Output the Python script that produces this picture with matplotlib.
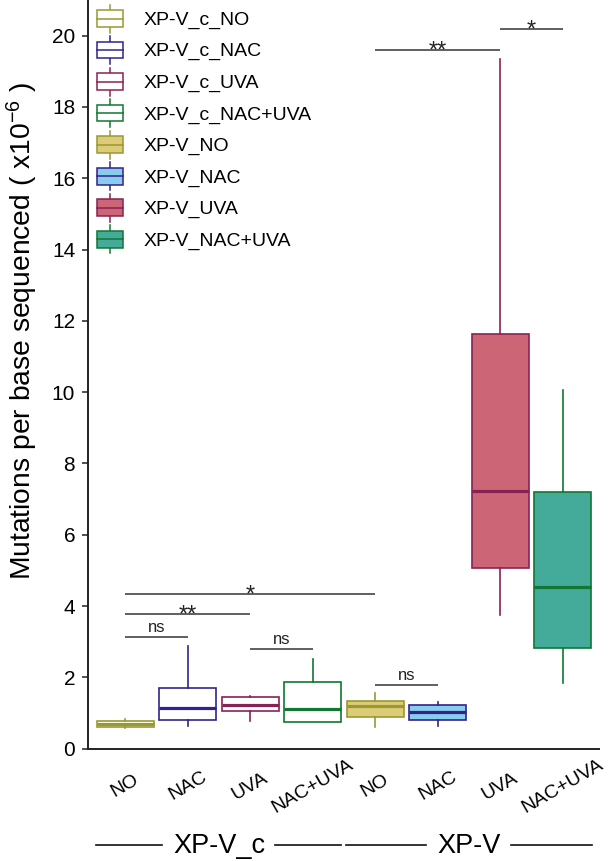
import matplotlib
matplotlib.use('Agg')
import matplotlib.pyplot as plt
from matplotlib.patches import Rectangle
from matplotlib.lines import Line2D
from matplotlib.legend_handler import HandlerBase

plt.rcParams['font.family'] = ['Liberation Sans', 'DejaVu Sans']
plt.rcParams['mathtext.fontset'] = 'custom'
plt.rcParams['mathtext.rm'] = 'Liberation Sans'
plt.rcParams['mathtext.it'] = 'Liberation Sans:italic'

treatments = ['NO', 'NAC', 'UVA', 'NAC+UVA']
cell_lines = ['XP-V_c', 'XP-V']

# box statistics (x1e-6), order: XP-V_c NO..NAC+UVA, then XP-V NO..NAC+UVA
whislo = [0.58, 0.63, 0.77, 0.75, 0.61, 0.63, 3.76, 1.83]
q1 = [0.60, 0.81, 1.05, 0.75, 0.88, 0.81, 5.07, 2.83]
med = [0.68, 1.15, 1.23, 1.12, 1.19, 1.04, 7.23, 4.55]
q3 = [0.78, 1.70, 1.44, 1.86, 1.35, 1.23, 11.64, 7.20]
whishi = [0.84, 2.87, 1.48, 2.52, 1.55, 1.30, 19.35, 10.07]

# significance brackets (box index 1-based)
sig_pairs = [(1, 2), (1, 3), (1, 5), (3, 4), (5, 6), (5, 7), (7, 8)]
sig_y = [3.14, 3.78, 4.34, 2.79, 1.80, 19.61, 20.20]
sig_text = ['ns', '**', '*', 'ns', 'ns', '**', '*']

edge_cols = ['#999933', '#332288', '#882255', '#117733']
fill_cols = ['#DDCC77', '#88CCEE', '#CC6677', '#44AA99']


class HandlerBox(HandlerBase):
    def create_artists(self, legend, orig, xdescent, ydescent, width, height, fontsize, trans):
        fc = orig.get_facecolor()
        ec = orig.get_edgecolor()
        x0, y0 = -xdescent, -ydescent
        whisk = Line2D([x0 + width / 2] * 2, [y0, y0 + height], color=ec, lw=1.1)
        rect = Rectangle((x0, y0 + 0.2 * height), width, 0.6 * height,
                         facecolor=fc, edgecolor=ec, lw=1.1)
        mline = Line2D([x0, x0 + width], [y0 + height / 2] * 2, color=ec, lw=1.1)
        for a in (whisk, rect, mline):
            a.set_transform(trans)
        return [whisk, rect, mline]


fig = plt.figure(figsize=(6.1, 8.61), dpi=100)
ax = fig.add_axes([0.1438, 0.1304, 0.8382, 0.8696])

pos = list(range(1, 9))
stats = []
for i in range(8):
    stats.append(dict(med=med[i], q1=q1[i], q3=q3[i], whislo=whislo[i],
                      whishi=whishi[i], fliers=[]))
bp = ax.bxp(stats, positions=pos, widths=0.91, patch_artist=True,
            showcaps=False, showfliers=False)
for i, box in enumerate(bp['boxes']):
    k = i % 4
    ec = edge_cols[k]
    fc = fill_cols[k] if i >= 4 else 'white'
    box.set(facecolor=fc, edgecolor=ec, linewidth=1.2)
    bp['medians'][i].set(color=ec, linewidth=2.3)
    for w in bp['whiskers'][2 * i:2 * i + 2]:
        w.set(color=ec, linewidth=1.2)

ax.set_xlim(0.4, 8.58)
ax.set_ylim(0, 21.0)
for s in ['top', 'right']:
    ax.spines[s].set_visible(False)
for s in ['left', 'bottom']:
    ax.spines[s].set_linewidth(1.4)
    ax.spines[s].set_color('#222222')

ax.set_yticks(range(0, 21, 2))
ax.tick_params(axis='y', labelsize=15, length=4.5, width=1.1, pad=4.5, color='#222222')
ax.set_xticks(pos)
ax.set_xticklabels(treatments * 2, rotation=30, ha='center', va='center',
                   rotation_mode='anchor', fontsize=14)
ax.tick_params(axis='x', length=0, pad=27)

for (a, b), y, t in zip(sig_pairs, sig_y, sig_text):
    ax.plot([a, b], [y, y], color='#444444', lw=1.2, solid_capstyle='butt')
    if t == 'ns':
        ax.annotate(t, xy=((a + b) / 2, y), xytext=(0, 3.5), textcoords='offset points',
                    ha='center', va='baseline', fontsize=12, color='#222222')
    else:
        ax.annotate(t, xy=((a + b) / 2, y), xytext=(0, -5.5), textcoords='offset points',
                    ha='center', va='baseline', fontsize=17, color='#222222')

# group labels under the x axis
xtr = ax.get_xaxis_transform()
gtexts = []
for g, name in enumerate(cell_lines):
    c = (pos[4 * g] + pos[4 * g + 3]) / 2
    gtexts.append(ax.text(c, -0.13, name, transform=xtr, ha='center', va='center',
                          fontsize=19.5))
fig.canvas.draw()
inv = ax.transData.inverted()
for g, t in enumerate(gtexts):
    bb = t.get_window_extent()
    left = inv.transform((bb.x0 - 11, 0))[0]
    right = inv.transform((bb.x1 + 10, 0))[0]
    lo = pos[4 * g] - 0.46
    hi = pos[4 * g + 3] + 0.46
    ax.plot([lo, left], [-0.129, -0.129], transform=xtr, color='#111111', lw=1.2, clip_on=False)
    ax.plot([right, hi], [-0.129, -0.129], transform=xtr, color='#111111', lw=1.2, clip_on=False)

handles = []
labels = []
for g, name in enumerate(cell_lines):
    for k, t in enumerate(treatments):
        fc = fill_cols[k] if g == 1 else 'white'
        handles.append(Rectangle((0, 0), 1, 1, facecolor=fc, edgecolor=edge_cols[k]))
        labels.append(name + '_' + t)
ax.legend(handles, labels, handler_map={Rectangle: HandlerBox()}, loc='upper left',
          bbox_to_anchor=(97 / 610, 1 - 4.5 / 861), bbox_transform=fig.transFigure,
          frameon=False, fontsize=14, handlelength=1.34, handleheight=1.84,
          labelspacing=0.18, handletextpad=1.03, borderpad=0, borderaxespad=0)

fig.text(22 / 610, 0.615, r'Mutations per base sequenced ( x10$^{-6}$ )',
         rotation=90, ha='center', va='center', fontsize=20.3)

fig.savefig('out.png', dpi=100)
